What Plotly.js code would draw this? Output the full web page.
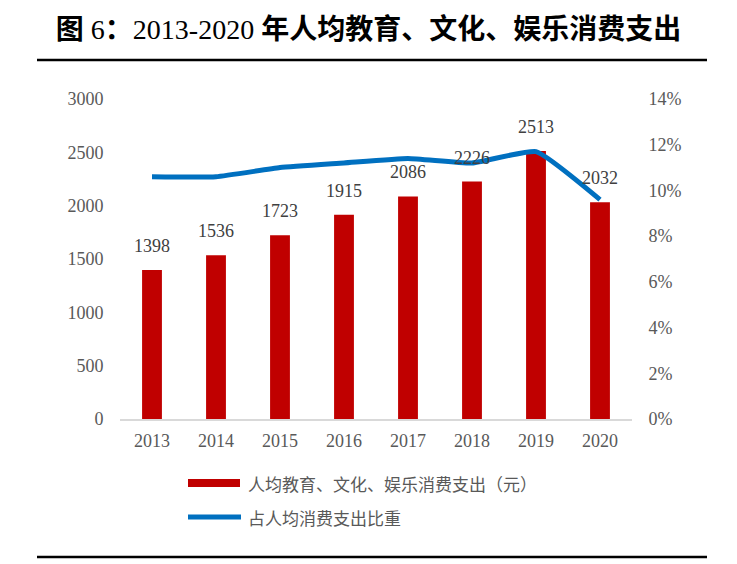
<!DOCTYPE html>
<html>
<head>
<meta charset="utf-8">
<script src="https://cdn.plot.ly/plotly-3.0.1.min.js"></script>
<style>
  html, body { margin: 0; padding: 0; background: #fff; }
  #chart { width: 737px; height: 564px; }
</style>
</head>
<body>
<div id="chart"></div>
<script>
// Data
const years = ['2013', '2014', '2015', '2016', '2017', '2018', '2019', '2020'];
const spending = [1398, 1536, 1723, 1915, 2086, 2226, 2513, 2032];
const share = [0.106, 0.106, 0.110, 0.112, 0.114, 0.112, 0.117, 0.096];
const barName = '人均教育、文化、娱乐消费支出（元）';
const lineName = '占人均消费支出比重';

const Colors = {
    bar: '#c00000',
    line: '#0070c0',
    tick: '#595959',
    label: '#404040',
    axis: '#d9d9d9'
};

const serif = 'Liberation Serif, "Noto Serif CJK SC", serif';
const cjk = '"Noto Sans CJK SC", sans-serif';

const barTrace = {
    x: years,
    y: spending,
    type: 'bar',
    name: barName,
    marker: { color: Colors.bar },
    hoverinfo: 'skip'
};

const lineTrace = {
    x: years,
    y: share,
    type: 'scatter',
    mode: 'lines',
    name: lineName,
    yaxis: 'y2',
    line: { color: Colors.line, width: 5, shape: 'spline', smoothing: 0.4 },
    hoverinfo: 'skip'
};

// value labels above the bars (category index as x, a year string would read as index 2013)
const valueLabels = years.map((yr, i) => ({
    x: i,
    y: spending[i],
    xref: 'x',
    yref: 'y',
    text: String(spending[i]),
    showarrow: false,
    yanchor: 'bottom',
    yshift: 12,
    font: { family: serif, size: 18, color: Colors.label }
}));

// hand-made legend (wide swatches like the original), positions in page pixels
const px = x => (x - 120) / 512;
const py = y => (419 - y) / 320;

const legendText = [
    { text: barName, y: 483 },
    { text: lineName, y: 517 }
].map(d => ({
    x: px(246),
    y: py(d.y),
    xref: 'paper',
    yref: 'paper',
    text: d.text,
    showarrow: false,
    xanchor: 'left',
    yanchor: 'middle',
    font: { family: cjk, size: 17, color: Colors.tick }
}));

const layout = {
    width: 737,
    height: 564,
    margin: { l: 120, r: 105, t: 99, b: 145 },
    paper_bgcolor: '#fff',
    plot_bgcolor: '#fff',
    showlegend: false,
    bargap: 0.69,
    title: {
        // CJK heavy, digits regular as in the original
        text: '<b>图</b> 6<b>：</b>2013-2020 <b>年人均教育、文化、娱乐消费支出</b>',
        x: 0.5,
        xanchor: 'center',
        y: 1 - 29 / 564,
        yanchor: 'middle',
        yref: 'container',
        font: { family: 'Liberation Serif, "Noto Sans CJK SC"', size: 28, color: '#000' }
    },
    xaxis: {
        type: 'category',
        range: [-0.5, 7.5],
        autorange: false,
        showgrid: false,
        showline: true,
        linecolor: Colors.axis,
        linewidth: 2,
        ticks: 'outside',
        ticklen: 4,
        tickcolor: 'rgba(0,0,0,0)',
        tickfont: { family: serif, size: 18, color: Colors.tick },
        fixedrange: true
    },
    yaxis: {
        range: [0, 3000],
        autorange: false,
        dtick: 500,
        showgrid: false,
        zeroline: false,
        showline: false,
        ticks: 'outside',
        ticklen: 12,
        tickcolor: 'rgba(0,0,0,0)',
        tickfont: { family: serif, size: 18, color: Colors.tick }
    },
    yaxis2: {
        overlaying: 'y',
        side: 'right',
        range: [0, 0.14],
        autorange: false,
        dtick: 0.02,
        tickformat: '.0%',
        showgrid: false,
        zeroline: false,
        showline: false,
        ticks: 'outside',
        ticklen: 12,
        tickcolor: 'rgba(0,0,0,0)',
        tickfont: { family: serif, size: 18, color: Colors.tick }
    },
    shapes: [
        // rules above and below the figure
        { type: 'line', xref: 'paper', yref: 'paper', x0: px(37), x1: px(707),
          y0: py(60), y1: py(60), line: { color: '#000', width: 2.5 } },
        { type: 'line', xref: 'paper', yref: 'paper', x0: px(37), x1: px(707),
          y0: py(557), y1: py(557), line: { color: '#000', width: 2.5 } },
        // legend swatches
        { type: 'rect', xref: 'paper', yref: 'paper', x0: px(188), x1: px(240),
          y0: py(487), y1: py(479), fillcolor: Colors.bar, line: { width: 0 } },
        { type: 'line', xref: 'paper', yref: 'paper', x0: px(188), x1: px(241),
          y0: py(517), y1: py(517), line: { color: Colors.line, width: 5 } }
    ],
    annotations: [...valueLabels, ...legendText]
};

Plotly.newPlot('chart', [barTrace, lineTrace], layout, { displayModeBar: false, staticPlot: true });
</script>
</body>
</html>
